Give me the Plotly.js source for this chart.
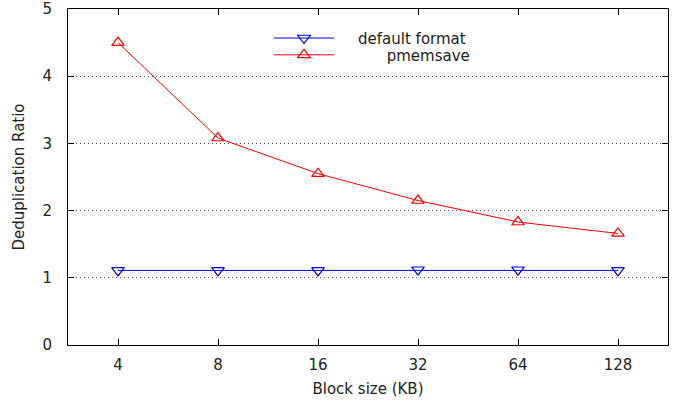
<!DOCTYPE html>
<html><head><meta charset="utf-8">
<script src="https://cdn.plot.ly/plotly-3.0.1.min.js"></script>
<style>body{margin:0;background:#fff}#c{width:683px;height:405px}</style>
</head><body><div id="c"></div>
<script>
const blockSizes = ["4", "8", "16", "32", "64", "128"];
const defaultFormat = [1.11, 1.11, 1.11, 1.12, 1.12, 1.11];
const pmemsave = [4.50, 3.08, 2.55, 2.15, 1.83, 1.66];
const yTicks = [0, 1, 2, 3, 4, 5];
const seriesNames = ["default format", "pmemsave"];

const font = "DejaVu Sans, sans-serif";
const txt = "#222";
const nb = n => "\u00a0".repeat(n);
const traces = [
  {x: blockSizes, y: defaultFormat, name: nb(4) + seriesNames[0], type: "scatter", mode: "lines+markers", legend: "legend",
   line: {color: "#0000ff", width: 1}, marker: {symbol: "triangle-down-open", size: 11, color: "#0000ff", line: {width: 1.2}}},
  {x: blockSizes, y: pmemsave, name: nb(10) + seriesNames[1], type: "scatter", mode: "lines+markers", legend: "legend2",
   line: {color: "#ff0000", width: 1}, marker: {symbol: "triangle-up-open", size: 11, color: "#ff0000", line: {width: 1.2}}}
];
const legendBase = {xanchor: "left", yanchor: "top", bgcolor: "rgba(0,0,0,0)",
  font: {family: font, size: 15, color: txt}, tracegroupgap: 0, itemwidth: 60};
const layout = {
  width: 683, height: 405,
  margin: {l: 68, r: 15, t: 9, b: 60},
  paper_bgcolor: "#fff", plot_bgcolor: "#fff",
  font: {family: font, size: 15, color: txt},
  showlegend: true,
  legend: Object.assign({x: 0.335, y: 0.962}, legendBase),
  legend2: Object.assign({x: 0.335, y: 0.912}, legendBase),
  xaxis: {type: "category", range: [-0.5, 5.5], showline: true, linecolor: "#000", linewidth: 1, mirror: "ticks",
          ticks: "inside", ticklen: 6, tickcolor: "#000", showgrid: false, zeroline: false,
          ticklabelstandoff: 6,
          tickfont: {family: font, size: 15, color: txt},
          title: {text: "Block size (KB)", font: {family: font, size: 15, color: txt}, standoff: 10}},
  yaxis: {range: [0, 5], tickmode: "array", tickvals: yTicks, ticktext: yTicks.map(String), ticklabeloverflow: "allow",
          showline: true, linecolor: "#000", linewidth: 1, mirror: "ticks",
          ticks: "inside", ticklen: 6, tickcolor: "#000", showgrid: true, gridcolor: "#555", griddash: "1px,3px", gridwidth: 1,
          zeroline: false, ticklabelstandoff: 12, tickfont: {family: font, size: 15, color: txt},
          title: {text: "Deduplication Ratio", font: {family: font, size: 15, color: txt}, standoff: 14}}
};
Plotly.newPlot("c", traces, layout, {displayModeBar: false, staticPlot: true});
</script></body></html>
